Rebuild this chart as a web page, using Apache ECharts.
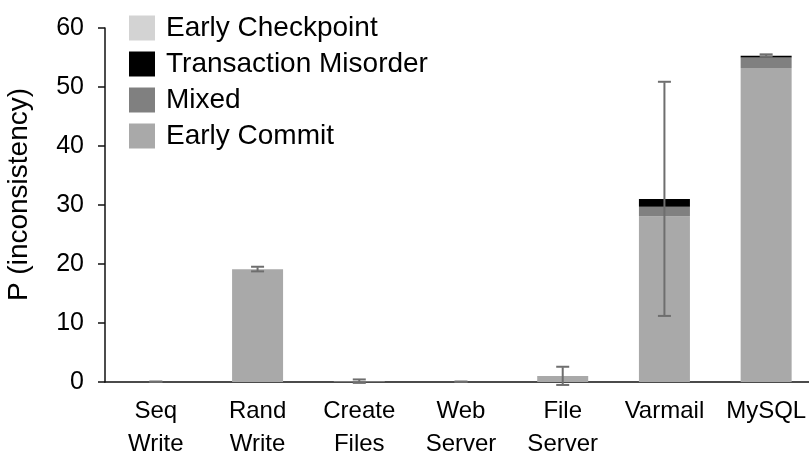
<!DOCTYPE html>
<html>
<head>
<meta charset="utf-8">
<script src="https://cdn.jsdelivr.net/npm/echarts@6/dist/echarts.min.js"></script>
<style>
  html, body { margin: 0; padding: 0; background: #fff; }
  #chart { width: 809px; height: 452px; }
</style>
</head>
<body>
<div id="chart"></div>
<script>
// Workloads on the x axis
const categories = ['Seq\nWrite', 'Rand\nWrite', 'Create\nFiles', 'Web\nServer', 'File\nServer', 'Varmail', 'MySQL'];

// Stacked components of P(inconsistency), in percent
const earlyCommit     = [0, 19.1, 0.1, 0, 1.0, 28.1, 53.2];
const mixed           = [0, 0, 0, 0, 0, 1.6, 1.8];
const txMisorder      = [0, 0, 0, 0, 0, 1.3, 0.3];
const earlyCheckpoint = [0, 0, 0, 0, 0, 0, 0];

// Half-width of the error bar around each stacked total
const errHalf = [0, 0.35, 0.25, 0, 1.5, 19.8, 0.15];

// Y axis ticks
const yTicks = [0, 10, 20, 30, 40, 50, 60];

const FONT = "'Liberation Sans', Arial, Helvetica, sans-serif";

const totals = categories.map((_, i) =>
  earlyCommit[i] + mixed[i] + txMisorder[i] + earlyCheckpoint[i]);
const errData = categories.map((_, i) =>
  [i, totals[i], totals[i] - errHalf[i], totals[i] + errHalf[i]]);

const chart = echarts.init(document.getElementById('chart'));

function barSeries(name, data, color) {
  return {
    name, type: 'bar', stack: 'p', data,
    barWidth: 51,
    itemStyle: { color },
    emphasis: { disabled: true },
    animation: false
  };
}

chart.setOption({
  animation: false,
  textStyle: { fontFamily: FONT },
  grid: { left: 105, right: -8, top: 28, bottom: 70, containLabel: false, outerBoundsMode: 'none' },
  legend: {
    orient: 'vertical',
    left: 124,
    top: 9,
    itemWidth: 26,
    itemHeight: 25,
    itemGap: 8,
    icon: 'rect',
    padding: 5,
    textStyle: { fontFamily: FONT, fontSize: 28, color: '#000', padding: [0, 0, 0, 6] },
    data: ['Early Checkpoint', 'Transaction Misorder', 'Mixed', 'Early Commit']
  },
  xAxis: {
    type: 'category',
    data: categories,
    axisLine: { lineStyle: { color: '#111', width: 1.5 } },
    axisTick: { show: false },
    axisLabel: {
      fontFamily: FONT, fontSize: 24, color: '#000',
      lineHeight: 33, margin: 13, interval: 0
    }
  },
  yAxis: {
    type: 'value',
    min: yTicks[0],
    max: yTicks[yTicks.length - 1],
    interval: 10,
    name: 'P (inconsistency)',
    nameLocation: 'middle',
    nameGap: 72,
    nameRotate: 90,
    nameTextStyle: { fontFamily: FONT, fontSize: 28, color: '#000', padding: [0, 0, 0, 21] },
    splitLine: { show: false },
    axisLine: { show: true, lineStyle: { color: '#111', width: 1.5 } },
    axisTick: { show: true, length: 7, lineStyle: { color: '#111', width: 1.5 } },
    axisLabel: { fontFamily: FONT, fontSize: 25, color: '#000', margin: 21 }
  },
  series: [
    barSeries('Early Commit', earlyCommit, '#a9a9a9'),
    barSeries('Mixed', mixed, '#808080'),
    barSeries('Transaction Misorder', txMisorder, '#000000'),
    barSeries('Early Checkpoint', earlyCheckpoint, '#d3d3d3'),
    {
      name: 'error',
      type: 'custom',
      data: errData,
      z: 10,
      silent: true,
      animation: false,
      encode: { x: 0, y: [2, 3] },
      renderItem(params, api) {
        const x = api.value(0);
        const lo = api.coord([x, api.value(2)]);
        const hi = api.coord([x, api.value(3)]);
        const half = 6.5;
        const style = { stroke: '#6e6e6e', lineWidth: 2 };
        return {
          type: 'group',
          children: [
            { type: 'line', shape: { x1: lo[0], y1: lo[1], x2: hi[0], y2: hi[1] }, style },
            { type: 'line', shape: { x1: hi[0] - half, y1: hi[1] - 0.5, x2: hi[0] + half, y2: hi[1] - 0.5 }, style },
            { type: 'line', shape: { x1: lo[0] - half, y1: lo[1], x2: lo[0] + half, y2: lo[1] }, style }
          ]
        };
      }
    }
  ]
});
</script>
</body>
</html>
